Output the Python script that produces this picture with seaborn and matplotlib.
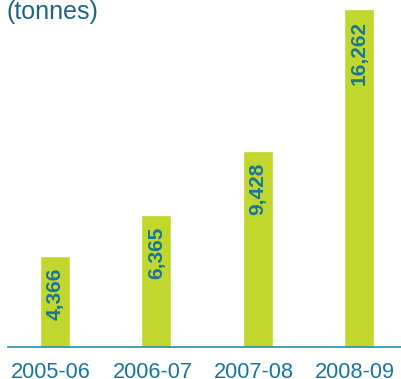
import matplotlib
matplotlib.use("Agg")
import matplotlib.pyplot as plt
import matplotlib.transforms as mtransforms
import seaborn as sns
import pandas as pd

years = ["2005-06", "2006-07", "2007-08", "2008-09"]
tonnes = [4366, 6365, 9428, 16262]
unit_label = "(tonnes)"

BAR = "#C2D72E"
TEAL = "#17779A"
TITLE = "#1A6683"
LINE = "#2A8BAA"

sns.set_theme(style="white")
plt.rcParams["font.family"] = ["Liberation Sans", "DejaVu Sans"]

df = pd.DataFrame({"year": years, "tonnes": tonnes})

fig = plt.figure(figsize=(4.01, 3.79), dpi=100)
ax = fig.add_axes([8 / 401, 1 - 346.5 / 379, 1 - 8 / 401, 346.5 / 379])

sns.barplot(data=df, x="year", y="tonnes", color=BAR, width=0.296,
            saturation=1, ax=ax)

ax.set_xlim(-0.464, 3.415)
ax.set_ylim(0, 16711)

for p, v in zip(ax.patches, tonnes):
    ax.annotate(f"{v:,}", (p.get_x() + p.get_width() / 2, p.get_height()),
                xytext=(0, -8.5), textcoords="offset points",
                rotation=90, ha="center", va="top",
                fontsize=15, fontweight="bold", color=TEAL)

for s in ["top", "left", "right"]:
    ax.spines[s].set_visible(False)
ax.spines["bottom"].set_color(LINE)
ax.spines["bottom"].set_linewidth(1.2)

ax.set_xlabel("")
ax.set_ylabel("")
ax.set_yticks([])
ax.tick_params(axis="x", length=0, pad=11, labelsize=15.7, labelcolor=TEAL)
shift = mtransforms.ScaledTranslation(-3.7 / 100, 0, fig.dpi_scale_trans)
for lbl in ax.get_xticklabels():
    lbl.set_transform(lbl.get_transform() + shift)

fig.text(6 / 401, 1 - 18.7 / 379, unit_label, ha="left", va="baseline",
         fontsize=18, color=TITLE)

fig.savefig("out.png", dpi=100)
